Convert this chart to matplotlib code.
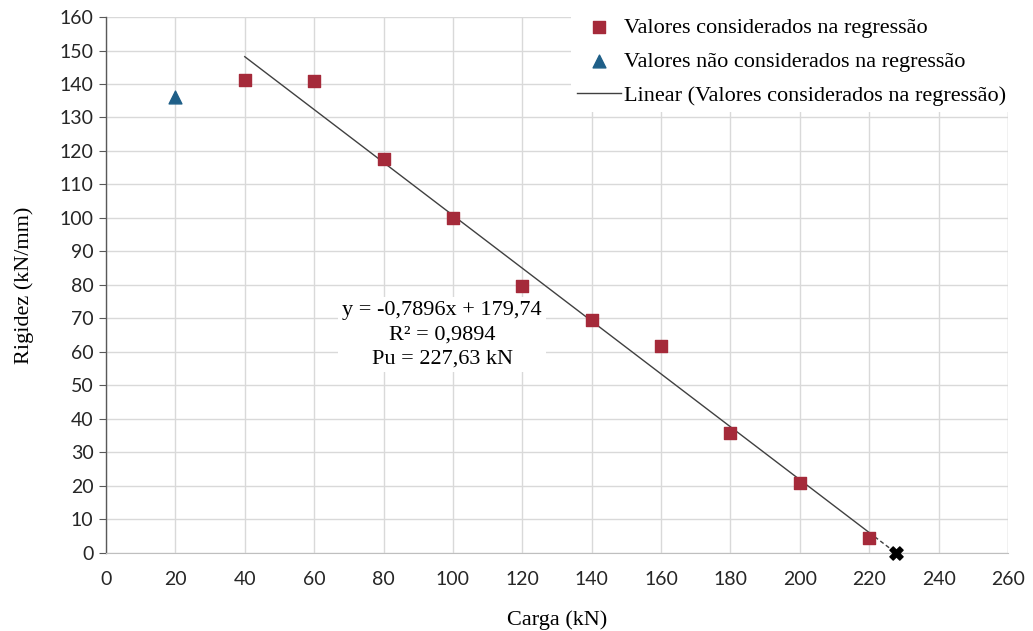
import matplotlib
matplotlib.use("Agg")
import matplotlib.pyplot as plt
import numpy as np

# Load (kN) and stiffness (kN/mm)
carga_reg = [40, 60, 80, 100, 120, 140, 160, 180, 200, 220]
rigidez_reg = [141.2, 141.0, 117.5, 100.0, 79.8, 69.5, 61.7, 35.8, 20.8, 4.5]
carga_excl = [20]
rigidez_excl = [136.2]

# Linear fit reported on the chart
slope = -0.7896
intercept = 179.74
r2 = 0.9894
pu = 227.63

serif = "Liberation Serif"
sans = "Lato"

fig, ax = plt.subplots(figsize=(10.33, 6.31), dpi=100)
fig.subplots_adjust(left=0.1026, right=0.9758, top=0.973, bottom=0.124)

grid_c = "#d9d9d9"
ax.set_xlim(0, 260)
ax.set_ylim(0, 160)
ax.set_xticks(np.arange(0, 261, 20))
ax.set_yticks(np.arange(0, 161, 10))
ax.grid(True, color=grid_c, linewidth=1.0)
ax.set_axisbelow(True)
for s in ["top", "right"]:
    ax.spines[s].set_visible(False)
ax.spines["bottom"].set_color("#bfbfbf")
ax.spines["left"].set_color("#595959")
ax.spines["left"].set_linewidth(1.0)
ax.axvline(260, color=grid_c, linewidth=1.0, zorder=0)
ax.tick_params(axis="y", direction="out", length=5, color="#595959",
               labelsize=14, labelcolor="#262626", pad=4)
ax.tick_params(axis="x", length=0, labelsize=14, labelcolor="#262626", pad=13)
for lab in ax.get_xticklabels() + ax.get_yticklabels():
    lab.set_fontfamily(sans)

# Trend line over the regression range, dashed extension to Pu
x_fit = np.array([carga_reg[0], carga_reg[-1]])
ax.plot(x_fit, slope * x_fit + intercept, color="#404040", linewidth=1.0,
        label="Linear (Valores considerados na regressão)", zorder=2)
x_ext = np.array([carga_reg[-1], pu])
ax.plot(x_ext, slope * x_ext + intercept, color="#404040", linewidth=1.0,
        linestyle=(0, (3, 2)), zorder=2)

ax.scatter(carga_reg, rigidez_reg, marker="s", s=75, color="#a52a3a",
           label="Valores considerados na regressão", zorder=3)
ax.scatter(carga_excl, rigidez_excl, marker="^", s=85, color="#1f5f88",
           label="Valores não considerados na regressão", zorder=3)
ax.scatter([pu], [0], marker="X", s=90, color="black", zorder=4, clip_on=False)

ax.text(96.9, 65.1,
        f"y = {slope:.4f}x + {intercept:.2f}\nR² = {r2:.4f}\nPu = {pu:.2f} kN".replace(".", ","),
        ha="center", va="center", fontsize=16, fontfamily=serif, linespacing=1.35,
        bbox=dict(facecolor="white", edgecolor="none", pad=3), zorder=3)

handles, labels = ax.get_legend_handles_labels()
order = [labels.index("Valores considerados na regressão"),
         labels.index("Valores não considerados na regressão"),
         labels.index("Linear (Valores considerados na regressão)")]
leg = ax.legend([handles[i] for i in order], [labels[i] for i in order],
                loc="upper right", bbox_to_anchor=(1.016, 1.03),
                prop={"family": serif, "size": 16}, frameon=True,
                framealpha=1.0, edgecolor="none", fancybox=False,
                handlelength=2.0, handletextpad=0.1, labelspacing=0.6,
                borderpad=0.25)

ax.set_xlabel("Carga (kN)", fontfamily=serif, fontsize=16, labelpad=16)
ax.set_ylabel("Rigidez (kN/mm)", fontfamily=serif, fontsize=16, labelpad=18)

fig.savefig("out.png", dpi=100)
